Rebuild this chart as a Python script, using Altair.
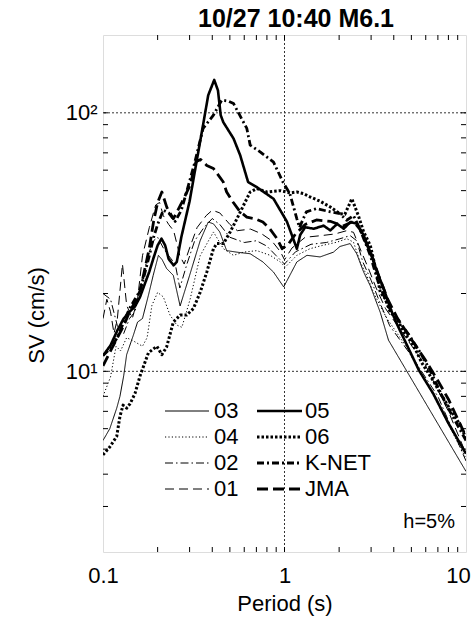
import altair as alt
import pandas as pd

W, H = 363, 517
FONT = "Liberation Sans"

# Pseudo-velocity response spectra, h = 5 %: period T (s) and SV (cm/s)
T_03 = [0.1, 0.109, 0.119, 0.124, 0.13, 0.135, 0.147, 0.155, 0.165, 0.178, 0.189, 0.202, 0.212, 0.224,
        0.244, 0.266, 0.3, 0.343, 0.38, 0.406, 0.44, 0.48, 0.547, 0.647, 0.76, 0.87, 0.99, 1.17, 1.33,
        1.57, 1.86, 2.02, 2.3, 2.5, 2.73, 2.97, 3.37, 3.74, 10]
SV_03 = [5.4, 6.0, 7.2, 8.0, 9.6, 11.6, 13.8, 15.5, 16, 19.7, 23.5, 28.1, 27, 25,
         23.5, 17.9, 23.5, 32, 37.8, 37.2, 34.6, 29.3, 28.9, 28.5, 26.5, 24.2, 21.2, 26.5, 28.1,
         27.7, 28.9, 30.4, 31.2, 28.5, 24.2, 21.4, 16.9, 13.2, 4.1]

T_04 = [0.1, 0.11, 0.118, 0.125, 0.135, 0.15, 0.165, 0.175, 0.186, 0.2, 0.215, 0.234, 0.255, 0.272,
        0.302, 0.343, 0.406, 0.461, 0.523, 0.594, 0.704, 0.834, 0.947, 1.01, 1.17, 1.38, 1.62, 1.95,
        2.2, 2.4, 2.61, 2.84, 3.09, 3.37, 3.67, 4.5, 6.3, 10]
SV_04 = [8.0, 9.5, 12.5, 12, 13.5, 13, 12.5, 13.5, 18, 20.2, 19.4, 16.5, 15.1, 14.8,
         19, 28, 34.6, 29.8, 28.1, 28.9, 29.3, 28.1, 26.5, 25.3, 28.1, 29.8, 30.7, 31.6,
         32.6, 31.6, 26.5, 23.5, 20.2, 17.9, 16, 13.0, 8.6, 4.6]

T_02 = [0.1, 0.11, 0.12, 0.13, 0.14, 0.15, 0.16, 0.17, 0.18, 0.19, 0.2, 0.215, 0.23, 0.25, 0.265,
        0.29, 0.32, 0.36, 0.4, 0.44, 0.5, 0.6, 0.7, 0.8, 0.9, 1.0, 1.15, 1.4, 1.7, 2.0, 2.3, 2.5,
        2.7, 3.0, 3.4, 3.8, 5, 7, 10]
SV_02 = [20, 19, 15, 14, 16, 17, 21, 25, 29, 32, 33, 30, 28, 26, 21,
         26, 32, 36, 39, 37, 33, 31.5, 32, 30.5, 28, 26, 29, 31, 31.5, 32.5, 33.5, 32,
         26.5, 22.5, 18, 15, 11.5, 8, 4.5]

T_01 = [0.1, 0.105, 0.11, 0.115, 0.12, 0.128, 0.135, 0.145, 0.155, 0.165, 0.18, 0.195, 0.205, 0.215,
        0.23, 0.245, 0.265, 0.28, 0.3, 0.33, 0.37, 0.4, 0.44, 0.5, 0.55, 0.65, 0.75, 0.85, 0.95, 1.0,
        1.1, 1.3, 1.6, 1.9, 2.2, 2.4, 2.6, 2.9, 3.2, 3.6, 4.5, 6, 8, 10]
SV_01 = [16, 19, 17, 14, 16, 26, 18, 16, 19, 28, 36, 44, 45, 40,
         37, 35, 28, 26, 30, 36, 40, 42, 41, 37, 35, 35.5, 34, 32, 29, 27,
         30, 33, 33.5, 34, 35, 34.5, 30, 25, 21, 17.5, 14, 10.5, 7, 4.8]

T_05 = [0.1, 0.11, 0.12, 0.13, 0.14, 0.15, 0.16, 0.17, 0.18, 0.19, 0.2, 0.21, 0.22, 0.23, 0.245,
        0.255, 0.27, 0.3, 0.33, 0.35, 0.38, 0.41, 0.43, 0.445, 0.46, 0.524, 0.57, 0.63, 0.7, 0.87,
        1.03, 1.17, 1.22, 1.3, 1.45, 1.64, 1.79, 1.95, 2.12, 2.3, 2.51, 2.73, 2.97, 3.24, 3.52,
        3.83, 4.17, 5.5, 6.6, 8, 10]
SV_05 = [11.5, 12.6, 14.4, 16, 17, 17.8, 19.4, 21.8, 24.3, 27.5, 30.7, 32.6, 30.7, 27.2, 25.7,
         26.5, 33, 45.5, 66.5, 84, 117, 134, 122, 98, 92, 79.5, 68.5, 54, 51.7, 46.5,
         38, 29.8, 33.7, 36.1, 35.6, 36.6, 35.1, 37.2, 35.6, 37.8, 37.2, 33.6, 28.9, 24.2, 20.9,
         17.5, 15.2, 10.1, 8.2, 6.3, 4.8]

T_06 = [0.1, 0.109, 0.119, 0.124, 0.129, 0.135, 0.141, 0.15, 0.16, 0.178, 0.198, 0.211, 0.224, 0.244,
        0.266, 0.289, 0.315, 0.343, 0.373, 0.406, 0.424, 0.461, 0.502, 0.547, 0.595, 0.647, 0.704,
        0.8, 0.95, 1.08, 1.17, 1.27, 1.38, 1.57, 1.79, 2.02, 2.15, 2.35, 2.55, 2.73, 2.97, 3.09,
        3.24, 3.37, 3.59, 3.83, 4.17, 4.53, 5.14, 5.7, 6.6, 7.1, 8.2, 9.3, 10]
SV_06 = [4.75, 5.1, 5.6, 6.7, 7.4, 7.2, 7.5, 8.2, 9.6, 11.8, 12.5, 11.6, 12.4, 15.5,
         16.5, 16.5, 17.5, 20.2, 24.2, 29.8, 31.2, 31.2, 34.6, 38.9, 43.9, 49.4, 50.9,
         49.4, 50, 49, 49.4, 48.7, 47.3, 45.5, 43.2, 40.7, 40.5, 46.5, 40.1, 34.6, 30.7, 27.2,
         23.5, 20.2, 19.1, 16.9, 16, 14.2, 12.6, 10.8, 9.2, 8.4, 7.1, 6.2, 5.5]

T_KNET = [0.1, 0.11, 0.12, 0.13, 0.14, 0.15, 0.16, 0.17, 0.18, 0.19, 0.2, 0.215, 0.23, 0.25, 0.27,
          0.29, 0.321, 0.356, 0.406, 0.451, 0.49, 0.524, 0.58, 0.62, 0.647, 0.734, 0.87, 0.98, 1.07,
          1.17, 1.21, 1.27, 1.32, 1.5, 1.79, 2.02, 2.2, 2.4, 2.6, 2.97, 3.24, 3.7, 4.17, 4.9, 5.6,
          6.3, 7.8, 10]
SV_KNET = [11.5, 12.3, 13.5, 15.5, 17.5, 19, 20.5, 24, 28, 33, 37, 42, 41, 38, 42,
           50, 64.6, 87, 98, 112, 111, 108.6, 95, 87, 75, 70.6, 64.5, 54, 48.7,
           38.9, 36, 39, 41.4, 42.6, 41.4, 40.7, 38.4, 40, 35.6, 28.1, 22.8, 18, 16, 13.7, 11.8,
           10.2, 7.4, 5.4]

T_JMA = [0.1, 0.11, 0.12, 0.13, 0.14, 0.15, 0.16, 0.166, 0.18, 0.19, 0.2, 0.211, 0.225, 0.244, 0.272,
         0.302, 0.325, 0.345, 0.373, 0.406, 0.46, 0.48, 0.52, 0.57, 0.62, 0.69, 0.76, 0.83, 0.91,
         0.97, 1.05, 1.15, 1.3, 1.5, 1.8, 2.1, 2.4, 2.6, 3.0, 3.3, 3.7, 4.2, 5, 6, 7, 8, 10]
SV_JMA = [10.5, 12, 13.5, 15, 17, 18.5, 20.5, 23, 30, 38, 45, 49.4, 43, 38.9, 45,
          52.5, 64.6, 66, 62.6, 60.9, 54, 49.4, 45.2, 41.4, 39.5, 38.9, 37.8, 35.6, 32.6,
          29.8, 31, 34, 37, 38.5, 38, 36.5, 38, 35.5, 28.5, 23.5, 19, 16, 13.3, 11, 9.2, 7.8, 5.6]

# Minor tick positions on the log axes
X_TICKS = [0.2, 0.3, 0.4, 0.5, 0.6, 0.7, 0.8, 0.9, 1, 2, 3, 4, 5, 6, 7, 8, 9]
Y_TICKS = [3, 4, 5, 6, 7, 8, 9, 10, 20, 30, 40, 50, 60, 70, 80, 90, 100]
X_LABELS = [0.1, 1, 10]
Y_LABELS = [10, 100]

SERIES = {
    "03": (T_03, SV_03), "04": (T_04, SV_04), "02": (T_02, SV_02), "01": (T_01, SV_01),
    "05": (T_05, SV_05), "06": (T_06, SV_06), "K-NET": (T_KNET, SV_KNET), "JMA": (T_JMA, SV_JMA),
}
# line style: (dash pattern, stroke width)
STYLE = {
    "03": ([1, 0], 1.0), "04": ([1.2, 2.2], 1.0), "02": ([8, 3, 1.5, 3], 1.0), "01": ([9, 5], 1.0),
    "05": ([1, 0], 2.6), "06": ([2.5, 2], 3.0), "K-NET": ([7, 3, 2, 3], 2.8), "JMA": ([11, 5], 2.8),
}
# legend layout: (column, row)
LEGEND = {"03": (0, 0), "04": (0, 1), "02": (0, 2), "01": (0, 3),
          "05": (1, 0), "06": (1, 1), "K-NET": (1, 2), "JMA": (1, 3)}

xscale = alt.Scale(type="log", domain=[0.1, 10], nice=False)
yscale = alt.Scale(type="log", domain=[2, 200], nice=False)

x_axis = alt.Axis(values=X_LABELS, format="~g", ticks=False, domain=False, grid=False,
                  labelFlush=False, labelOverlap=False, labelFontSize=22, labelFont=FONT,
                  labelColor="black", labelPadding=13,
                  labelOffset={"condition": {"test": "datum.value == 10", "value": -8}, "value": 0},
                  title="Period (s)", titleFont=FONT, titleFontSize=22, titleFontWeight="normal",
                  titleColor="black", titlePadding=7)
y_axis = alt.Axis(values=Y_LABELS, labelExpr="datum.value == 100 ? '10²' : '10¹'",
                  ticks=False, domain=False, grid=False, labelFlush=False, labelOverlap=False,
                  labelFontSize=22, labelFont=FONT, labelColor="black", labelPadding=6,
                  title="SV (cm/s)", titleFont=FONT, titleFontSize=22, titleFontWeight="normal",
                  titleColor="black", titlePadding=17, titleY=280)


def X():
    return alt.X("T:Q", scale=xscale, axis=x_axis)


def Y():
    return alt.Y("SV:Q", scale=yscale, axis=y_axis)


layers = []

# dotted grid at the decades
layers.append(alt.Chart(pd.DataFrame({"T": [1]})).mark_rule(
    strokeDash=[2, 2], color="#333", strokeWidth=1).encode(x=X()))
layers.append(alt.Chart(pd.DataFrame({"SV": [10, 100]})).mark_rule(
    strokeDash=[2, 2], color="#333", strokeWidth=1).encode(y=Y()))

# inward ticks on all four sides
xt = pd.DataFrame({"T": X_TICKS})
yt = pd.DataFrame({"SV": Y_TICKS})
for y0, y1 in [(H, H - 5), (0, 5)]:
    layers.append(alt.Chart(xt).mark_rule(color="black", strokeWidth=1).encode(
        x=X(), y=alt.value(y0), y2=alt.value(y1)))
for x0, x1 in [(0, 5), (W, W - 5)]:
    layers.append(alt.Chart(yt).mark_rule(color="black", strokeWidth=1).encode(
        y=Y(), x=alt.value(x0), x2=alt.value(x1)))

# spectra
for name, (ts, svs) in SERIES.items():
    dash, sw = STYLE[name]
    d = pd.DataFrame({"T": ts, "SV": svs, "i": range(len(ts))})
    layers.append(alt.Chart(d).mark_line(
        color="black", strokeDash=dash, strokeWidth=sw, clip=True,
        strokeCap="butt", strokeJoin="round").encode(x=X(), y=Y(), order="i:Q"))

# legend inside the plot
one = pd.DataFrame({"k": [0]})
COL_X1, COL_X2, COL_TX = [62, 154], [106, 199], [111, 202]
ROW_Y0, ROW_DY = 376, 26
for name, (c, r) in LEGEND.items():
    dash, sw = STYLE[name]
    yy = ROW_Y0 + r * ROW_DY
    layers.append(alt.Chart(one).mark_rule(
        color="black", strokeDash=dash, strokeWidth=sw, strokeCap="butt").encode(
        x=alt.value(COL_X1[c]), x2=alt.value(COL_X2[c]), y=alt.value(yy)))
    layers.append(alt.Chart(one).mark_text(
        text=name, align="left", baseline="middle", font=FONT, fontSize=22, color="black").encode(
        x=alt.value(COL_TX[c]), y=alt.value(yy)))

layers.append(alt.Chart(one).mark_text(
    text="h=5%", align="right", baseline="middle", font=FONT, fontSize=20, color="black").encode(
    x=alt.value(352), y=alt.value(487)))

# chart title above the frame
layers.append(alt.Chart(one).mark_text(
    text="10/27 10:40 M6.1", align="center", baseline="alphabetic", font=FONT, fontSize=25,
    fontWeight="bold", color="black").encode(x=alt.value(193), y=alt.value(-8)))

chart = alt.layer(*layers).properties(
    width=W, height=H,
    autosize=alt.AutoSizeParams(type="none"),
    padding={"left": 103, "top": 35, "right": 7, "bottom": 69},
    background="white",
).configure_view(stroke="black", strokeWidth=1).configure(font=FONT)

chart.save("out.html", embed_options={"renderer": "svg", "actions": False})
